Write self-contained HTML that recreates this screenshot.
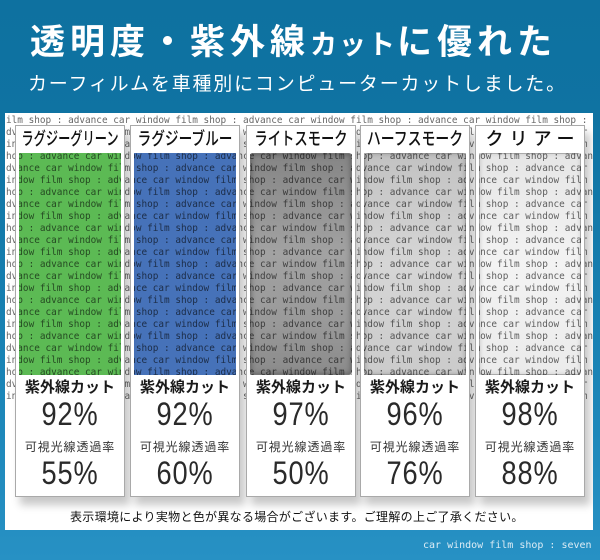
<!DOCTYPE html>
<html lang="ja">
<head>
<meta charset="utf-8">
<style>
  html,body{margin:0;padding:0;}
  body{width:600px;height:560px;overflow:hidden;position:relative;
    background:linear-gradient(to bottom,#0e71a0 0px,#0f73a2 120px,#1c86b8 400px,#2791c4 560px);
    font-family:"Liberation Sans","Noto Sans CJK JP",sans-serif;}
  .title{position:absolute;left:30px;top:25px;color:#fff;font-weight:bold;font-size:35px;line-height:35px;letter-spacing:5px;white-space:nowrap;
    font-family:"Liberation Sans","Noto Sans CJK JP",sans-serif;}
  .title .sm{font-size:27px;letter-spacing:2px;}
  .sub{position:absolute;left:28px;top:75px;color:#fff;font-size:19px;line-height:19px;letter-spacing:1.8px;white-space:nowrap;
    font-family:"Liberation Sans","Noto Sans CJK JP",sans-serif;}
  .panel{position:absolute;left:5px;top:113px;width:588px;height:417px;background:#fff;overflow:hidden;}
  .bg{position:absolute;left:1px;height:12px;line-height:12px;font-family:"DejaVu Sans Mono","Liberation Mono",monospace;font-size:9.4px;color:#666;white-space:pre;}
  .card{position:absolute;top:12px;width:110px;height:372px;box-sizing:border-box;border:1px solid #a9a9a9;
    box-shadow:5px 8px 8px rgba(0,0,0,0.22);}
  .hd{position:absolute;left:0;top:0;width:108px;height:27px;background:#fff;}
  .hd span{position:absolute;left:50%;top:4px;display:inline-block;white-space:nowrap;font-size:18px;line-height:18px;color:#111;
    font-family:"Liberation Sans","Noto Sans CJK JP",sans-serif;font-weight:500;}
  .ls{position:absolute;left:0;top:27px;width:3px;height:222px;background:#fff;}
  .rs{position:absolute;right:0;top:27px;width:3px;height:222px;background:#fff;}
  .win{position:absolute;left:3px;top:27px;width:102px;height:222px;mix-blend-mode:multiply;box-sizing:border-box;}
  .green{background:#5cba54;}
  .blue{background:#4672b9;}
  .sm1{background:linear-gradient(#858585 0%,#a2a2a2 45%,#9a9a9a 75%,#8b8b8b 100%);border:1px solid #777;border-radius:3px;box-shadow:inset 0 0 6px rgba(0,0,0,.35);}
  .sm2{background:linear-gradient(#c2c2c2 0%,#d6d6d6 50%,#cbcbcb 100%);border:1px solid #999;border-radius:3px;box-shadow:inset 0 0 5px rgba(0,0,0,.2);}
  .clr{background:linear-gradient(#e6e6e6 0%,#f3f3f3 50%,#ebebeb 100%);border:1px solid #aaa;border-radius:3px;box-shadow:inset 0 0 4px rgba(0,0,0,.12);}
  .bt{position:absolute;left:0;top:249px;width:108px;height:121px;background:#fff;}
  .uv{position:absolute;left:0;top:4.5px;width:108px;text-align:center;font-size:15px;line-height:15px;font-weight:bold;color:#1a1a1a;white-space:nowrap;
    font-family:"Liberation Sans","Noto Sans CJK JP",sans-serif;}
  .vl{position:absolute;left:0;top:66px;width:108px;text-align:center;font-size:12px;line-height:12px;letter-spacing:0.9px;color:#333;white-space:nowrap;
    font-family:"Liberation Sans","Noto Sans CJK JP",sans-serif;}
  .pc{position:absolute;left:50%;display:inline-block;font-size:32px;line-height:32px;letter-spacing:1px;color:#2a2a2a;white-space:nowrap;
    transform:translateX(-50%) scaleX(0.85);font-family:"Liberation Sans",sans-serif;}
  .p1{top:23px;}
  .p2{top:82px;}
  .note{position:absolute;left:65px;top:398px;font-size:12px;line-height:12px;letter-spacing:0.3px;color:#111;white-space:nowrap;
    font-family:"Liberation Sans","Noto Sans CJK JP",sans-serif;}
  .credit{position:absolute;left:423px;top:540px;font-family:"DejaVu Sans Mono","Liberation Mono",monospace;font-size:10px;line-height:12px;color:#dcecf5;white-space:pre;}
</style>
</head>
<body>
<div class="title">透明度・紫外線<span class="sm">カット</span>に優れた</div>
<div class="sub">カーフィルムを車種別にコンピューターカットしました。</div>

<div class="panel">
<div class="bg" style="top:2px">ilm shop : advance car window film shop : advance car window film shop : advance car window film shop : advance car window film shop : </div>
<div class="bg" style="top:14px">dvance car window film shop : advance car window film shop : advance car window film shop : advance car window film shop : </div>
<div class="bg" style="top:26px">indow film shop : advance car window film shop : advance car window film shop : advance car window film shop : advance car window film shop : </div>
<div class="bg" style="top:38px">hop : advance car window film shop : advance car window film shop : advance car window film shop : advance car window film shop : </div>
<div class="bg" style="top:50px">dvance car window film shop : advance car window film shop : advance car window film shop : advance car window film shop : </div>
<div class="bg" style="top:62px">indow film shop : advance car window film shop : advance car window film shop : advance car window film shop : advance car window film shop : </div>
<div class="bg" style="top:74px">hop : advance car window film shop : advance car window film shop : advance car window film shop : advance car window film shop : </div>
<div class="bg" style="top:86px">dvance car window film shop : advance car window film shop : advance car window film shop : advance car window film shop : </div>
<div class="bg" style="top:98px">indow film shop : advance car window film shop : advance car window film shop : advance car window film shop : advance car window film shop : </div>
<div class="bg" style="top:110px">hop : advance car window film shop : advance car window film shop : advance car window film shop : advance car window film shop : </div>
<div class="bg" style="top:122px">dvance car window film shop : advance car window film shop : advance car window film shop : advance car window film shop : </div>
<div class="bg" style="top:134px">indow film shop : advance car window film shop : advance car window film shop : advance car window film shop : advance car window film shop : </div>
<div class="bg" style="top:146px">hop : advance car window film shop : advance car window film shop : advance car window film shop : advance car window film shop : </div>
<div class="bg" style="top:158px">dvance car window film shop : advance car window film shop : advance car window film shop : advance car window film shop : </div>
<div class="bg" style="top:170px">indow film shop : advance car window film shop : advance car window film shop : advance car window film shop : advance car window film shop : </div>
<div class="bg" style="top:182px">hop : advance car window film shop : advance car window film shop : advance car window film shop : advance car window film shop : </div>
<div class="bg" style="top:194px">dvance car window film shop : advance car window film shop : advance car window film shop : advance car window film shop : </div>
<div class="bg" style="top:206px">indow film shop : advance car window film shop : advance car window film shop : advance car window film shop : advance car window film shop : </div>
<div class="bg" style="top:218px">hop : advance car window film shop : advance car window film shop : advance car window film shop : advance car window film shop : </div>
<div class="bg" style="top:230px">dvance car window film shop : advance car window film shop : advance car window film shop : advance car window film shop : </div>
<div class="bg" style="top:242px">indow film shop : advance car window film shop : advance car window film shop : advance car window film shop : advance car window film shop : </div>
<div class="bg" style="top:254px">hop : advance car window film shop : advance car window film shop : advance car window film shop : advance car window film shop : </div>
<div class="bg" style="top:266px">dvance car window film shop : advance car window film shop : advance car window film shop : advance car window film shop : </div>
<div class="bg" style="top:278px">indow film shop : advance car window film shop : advance car window film shop : advance car window film shop : advance car window film shop : </div>

<div class="card" style="left:10px">
  <div class="hd"><span style="transform:translateX(-50%) scaleX(0.68)">ラグジーグリーン</span></div>
  <div class="ls"></div><div class="rs"></div>
  <div class="win green"></div>
  <div class="bt">
    <div class="uv">紫外線カット</div>
    <div class="pc p1">92%</div>
    <div class="vl">可視光線透過率</div>
    <div class="pc p2">55%</div>
  </div>
</div>

<div class="card" style="left:125px">
  <div class="hd"><span style="transform:translateX(-50%) scaleX(0.76)">ラグジーブルー</span></div>
  <div class="ls"></div><div class="rs"></div>
  <div class="win blue"></div>
  <div class="bt">
    <div class="uv">紫外線カット</div>
    <div class="pc p1">92%</div>
    <div class="vl">可視光線透過率</div>
    <div class="pc p2">60%</div>
  </div>
</div>

<div class="card" style="left:241px">
  <div class="hd"><span style="transform:translateX(-50%) scaleX(0.74)">ライトスモーク</span></div>
  <div class="ls"></div><div class="rs"></div>
  <div class="win sm1"></div>
  <div class="bt">
    <div class="uv">紫外線カット</div>
    <div class="pc p1">97%</div>
    <div class="vl">可視光線透過率</div>
    <div class="pc p2">50%</div>
  </div>
</div>

<div class="card" style="left:355px">
  <div class="hd"><span style="transform:translateX(-50%) scaleX(0.77)">ハーフスモーク</span></div>
  <div class="ls"></div><div class="rs"></div>
  <div class="win sm2"></div>
  <div class="bt">
    <div class="uv">紫外線カット</div>
    <div class="pc p1">96%</div>
    <div class="vl">可視光線透過率</div>
    <div class="pc p2">76%</div>
  </div>
</div>

<div class="card" style="left:470px">
  <div class="hd"><span style="transform:translateX(-50%);letter-spacing:6px;margin-left:3px">クリアー</span></div>
  <div class="ls"></div><div class="rs"></div>
  <div class="win clr"></div>
  <div class="bt">
    <div class="uv">紫外線カット</div>
    <div class="pc p1">98%</div>
    <div class="vl">可視光線透過率</div>
    <div class="pc p2">88%</div>
  </div>
</div>

<div class="note">表示環境により実物と色が異なる場合がございます。ご理解の上ご了承ください。</div>
</div>

<div class="credit">car window film shop : seven</div>
</body>
</html>
